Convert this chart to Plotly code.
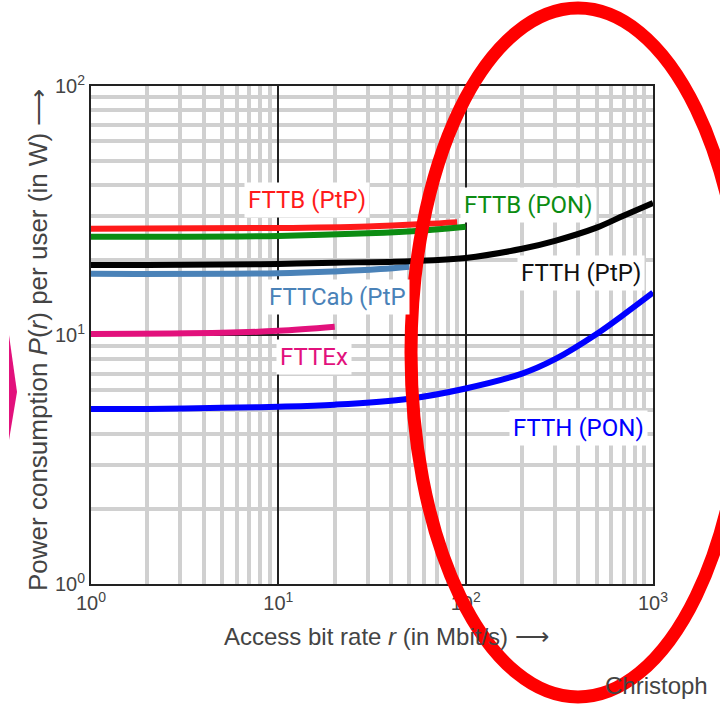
import plotly.graph_objects as go

# Access bit rate r (Mbit/s) and power per user P(r) (W) for each architecture
rate_fttb_ptp = [1, 10, 30, 60, 90]
power_fttb_ptp = [26.7, 26.9, 27.3, 27.9, 28.4]

rate_fttb_pon = [1, 10, 30, 60, 100]
power_fttb_pon = [24.8, 25.0, 25.6, 26.3, 27.2]

rate_ftth_ptp = [1, 2, 5, 10, 20, 50, 100, 200, 300, 500, 700, 1000]
power_ftth_ptp = [19.1, 19.1, 19.2, 19.3, 19.5, 19.8, 20.4, 22.2, 23.9, 27.0, 30.2, 33.9]

rate_fttcab_ptp = [1, 10, 20, 35, 50]
power_fttcab_ptp = [17.6, 17.7, 18.0, 18.4, 18.8]

rate_fttex = [1, 5, 10, 20]
power_fttex = [10.1, 10.2, 10.4, 10.8]

rate_ftth_pon = [1, 2, 5, 10, 20, 50, 100, 200, 300, 500, 700, 1000]
power_ftth_pon = [5.05, 5.05, 5.1, 5.15, 5.25, 5.55, 6.1, 7.0, 8.0, 10.1, 12.1, 14.8]

x_ticks = [1, 10, 100, 1000]
x_tick_text = ["10<sup>0</sup>", "10<sup>1</sup>", "10<sup>2</sup>", "10<sup>3</sup>"]
y_ticks = [1, 10, 100]
y_tick_text = ["10<sup>0</sup>", "10<sup>1</sup>", "10<sup>2</sup>"]

series = [
    ("FTTB (PtP)", rate_fttb_ptp, power_fttb_ptp, "#ff1a1a"),
    ("FTTB (PON)", rate_fttb_pon, power_fttb_pon, "#0c8c12"),
    ("FTTCab (PtP)", rate_fttcab_ptp, power_fttcab_ptp, "#4a82b8"),
    ("FTTH (PtP)", rate_ftth_ptp, power_ftth_ptp, "#000000"),
    ("FTTEx", rate_fttex, power_fttex, "#e2117c"),
    ("FTTH (PON)", rate_ftth_pon, power_ftth_pon, "#0000ff"),
]

fig = go.Figure()
for name, xs, ys, col in series:
    fig.add_trace(go.Scatter(x=xs, y=ys, mode="lines", name=name,
                             line=dict(color=col, width=6, shape="spline"),
                             showlegend=False))

minor_vals = [m * 10 ** d for d in range(0, 3) for m in range(2, 10)]
minor_vals_y = [m * 10 ** d for d in range(0, 2) for m in range(2, 10)]
tick_font = dict(family="Liberation Sans Narrow, Liberation Sans, Arial", size=20, color="#444444")

fig.update_xaxes(type="log", range=[0, 3], tickvals=x_ticks, ticktext=x_tick_text,
                 showgrid=True, gridcolor="#222222", gridwidth=1.5,
                 minor=dict(tickmode="array", tickvals=minor_vals, showgrid=True,
                            gridcolor="#d0d0d0", gridwidth=4, ticklen=0),
                 showline=True, linecolor="#222222", linewidth=2, mirror=True,
                 ticks="", tickfont=tick_font, zeroline=False)
fig.update_yaxes(type="log", range=[0, 2], tickvals=y_ticks, ticktext=y_tick_text,
                 showgrid=True, gridcolor="#222222", gridwidth=1.5,
                 minor=dict(tickmode="array", tickvals=minor_vals_y, showgrid=True,
                            gridcolor="#d0d0d0", gridwidth=4, ticklen=0),
                 showline=True, linecolor="#222222", linewidth=2, mirror=True,
                 ticks="", tickfont=tick_font, zeroline=False)

# label positions are given in log10 units of the axes
label_font = "Roboto, Liberation Sans, Arial"
labels = [
    ("FTTB (PtP)", 1.153, 1.542, "#ff1a1a", "center"),
    ("FTTB (PON)", 1.97, 1.522, "#0c8c12", "left"),
    ("FTTH (PtP)", 2.958, 1.249, "#111111", "right"),
    ("FTTCab (PtP", 0.929, 1.153, "#4a82b8", "left"),
    ("FTTEx", 0.988, 0.912, "#e2117c", "left"),
    ("FTTH (PON)", 2.974, 0.627, "#0000ff", "right"),
]
for text, lx, ly, col, anchor in labels:
    fig.add_annotation(x=lx, y=ly, xref="x", yref="y", text=text, showarrow=False,
                       xanchor=anchor, yanchor="middle",
                       font=dict(family=label_font, size=24, color=col),
                       bgcolor="white", borderpad=3)

# plot area in pixels: x 91..653, y 86..584
def px(xp):
    return (xp - 91) / 562

def py(yp):
    return (584 - yp) / 498

title_font = dict(family="Liberation Sans Narrow, Liberation Sans, Arial", size=24, color="#444444")
fig.add_annotation(x=px(386), y=py(636), xref="paper", yref="paper",
                   text="Access bit rate <i>r</i> (in Mbit/s) ⟶", showarrow=False,
                   xanchor="center", yanchor="middle", font=title_font)
fig.add_annotation(x=px(38), y=py(340), xref="paper", yref="paper",
                   text="Power consumption <i>P</i>(<i>r</i>) per user (in W) ⟶",
                   textangle=-90, showarrow=False, xanchor="center", yanchor="middle",
                   font=dict(family="Liberation Sans Narrow, Liberation Sans, Arial",
                             size=26, color="#444444"))
fig.add_annotation(x=px(603), y=py(686), xref="paper", yref="paper",
                   text="Christoph", showarrow=False, xanchor="left", yanchor="middle",
                   font=dict(family="Liberation Sans, Arial", size=24, color="#444444"))

# red ellipse highlight
fig.add_shape(type="circle", xref="paper", yref="paper",
              x0=px(411), x1=px(745), y0=py(697), y1=py(8),
              line=dict(color="#ff0000", width=13), layer="above")
# magenta wedge at the left edge
fig.add_shape(type="path", xref="paper", yref="paper",
              path=f"M {px(9)} {py(335)} L {px(17)} {py(392)} L {px(9)} {py(440)} Z",
              fillcolor="#e2117c", line=dict(width=0), layer="above")

fig.update_layout(width=720, height=707, margin=dict(l=91, r=67, t=86, b=123),
                  plot_bgcolor="white", paper_bgcolor="white")

fig.write_html("out.html")
